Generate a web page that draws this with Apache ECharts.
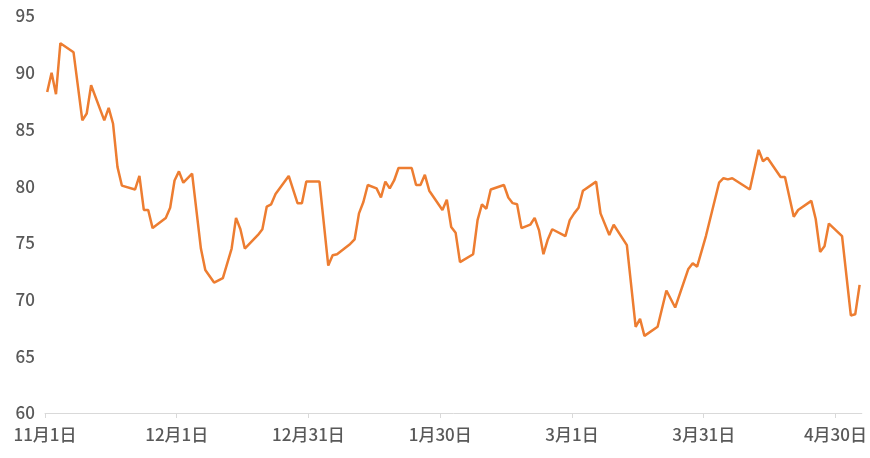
<!DOCTYPE html>
<html>
<head>
<meta charset="utf-8">
<script src="https://cdn.jsdelivr.net/npm/echarts@6/dist/echarts.min.js"></script>
<style>
	html, body { margin: 0; padding: 0; background: #fff; }
	#chart { width: 870px; height: 458px; }
</style>
</head>
<body>
<div id="chart"></div>
<script>
// days counted from 11月1日
var days = [0, 1, 2, 3, 6, 8, 9, 10, 13, 14, 15, 16, 17, 20, 21, 22, 23, 24, 27, 28, 29, 30, 31,
	33, 35, 36, 38, 40, 42, 43, 44, 45, 48, 49, 50, 51, 52, 55, 57, 58, 59, 62,
	64, 65, 66, 69, 70, 71, 72, 73, 75, 76, 77, 78, 79, 80, 83, 84, 85, 86, 87, 90, 91, 92, 93, 94,
	97, 98, 99, 100, 101, 104, 105, 106, 107, 108, 110, 111, 112, 113, 114, 115, 118, 119, 120, 121, 122, 125, 126,
	128, 129, 132, 134, 135, 136, 139, 141, 143, 146, 147, 148, 150, 153, 154, 155, 156, 160,
	162, 163, 164, 167, 168, 170, 171, 174, 175, 176, 177, 178, 181, 183, 184, 185];
var values = [88.3, 90.0, 88.1, 92.6, 91.8, 85.8, 86.4, 88.9, 85.8, 86.9, 85.5, 81.7, 80.05, 79.7, 80.9, 77.9, 77.9, 76.3, 77.2, 78.1, 80.5, 81.3, 80.3,
	81.1, 74.5, 72.6, 71.5, 71.9, 74.5, 77.2, 76.2, 74.5, 75.7, 76.2, 78.2, 78.4, 79.3, 80.9, 78.5, 78.5, 80.4, 80.4,
	73.0, 73.9, 74.0, 74.9, 75.3, 77.6, 78.6, 80.1, 79.8, 79.0, 80.4, 79.8, 80.5, 81.6, 81.6, 80.1, 80.1, 81.0, 79.6, 77.9, 78.8, 76.4, 75.9, 73.3,
	74.0, 77.0, 78.4, 78.0, 79.7, 80.1, 79.0, 78.5, 78.4, 76.3, 76.6, 77.2, 76.1, 74.0, 75.3, 76.2, 75.6, 77.0, 77.6, 78.1, 79.6, 80.4, 77.6,
	75.7, 76.6, 74.8, 67.6, 68.3, 66.8, 67.6, 70.8, 69.3, 72.7, 73.2, 72.9, 75.6, 80.3, 80.7, 80.6, 80.7, 79.7,
	83.2, 82.2, 82.5, 80.8, 80.8, 77.3, 77.9, 78.7, 77.1, 74.2, 74.7, 76.7, 75.6, 68.6, 68.7, 71.3];

var tickDays = [0, 30, 60, 90, 120, 150, 180];
var tickLabels = ['11月1日', '12月1日', '12月31日', '1月30日', '3月1日', '3月31日', '4月30日'];

var labelFont = '"Noto Sans CJK JP", "Noto Sans", sans-serif';

var seriesData = [];
for (var i = 0; i < days.length; ++i) {
	// points sit in the middle of their day
	seriesData.push([days[i] + 0.5, values[i]]);
}

var chart = echarts.init(document.getElementById('chart'));
var option = {
	animation: false,
	grid: {
		left: 45,
		right: 8,
		top: 16,
		bottom: 45,
		containLabel: false
	},
	xAxis: {
		type: 'value',
		min: 0,
		max: 186,
		interval: 30,
		splitLine: { show: false },
		axisLine: {
			show: true,
			lineStyle: { color: '#d9d9d9', width: 1 }
		},
		axisTick: {
			show: true,
			length: 5,
			customValues: tickDays,
			lineStyle: { color: '#d9d9d9' }
		},
		axisLabel: {
			customValues: tickDays,
			margin: 13,
			color: '#595959',
			fontSize: 17,
			fontWeight: 500,
			fontFamily: labelFont,
			formatter: function(v) {
				var k = tickDays.indexOf(v);
				return k < 0 ? '' : tickLabels[k];
			}
		}
	},
	yAxis: {
		type: 'value',
		min: 60,
		max: 95,
		interval: 5,
		splitLine: { show: false },
		axisLine: { show: false },
		axisTick: { show: false },
		axisLabel: {
			margin: 10,
			color: '#595959',
			fontSize: 17,
			fontWeight: 500,
			fontFamily: labelFont
		}
	},
	series: [{
		type: 'line',
		data: seriesData,
		symbol: 'none',
		lineStyle: {
			color: '#ED7D31',
			width: 2.5
		}
	}]
};
chart.setOption(option);
</script>
</body>
</html>
